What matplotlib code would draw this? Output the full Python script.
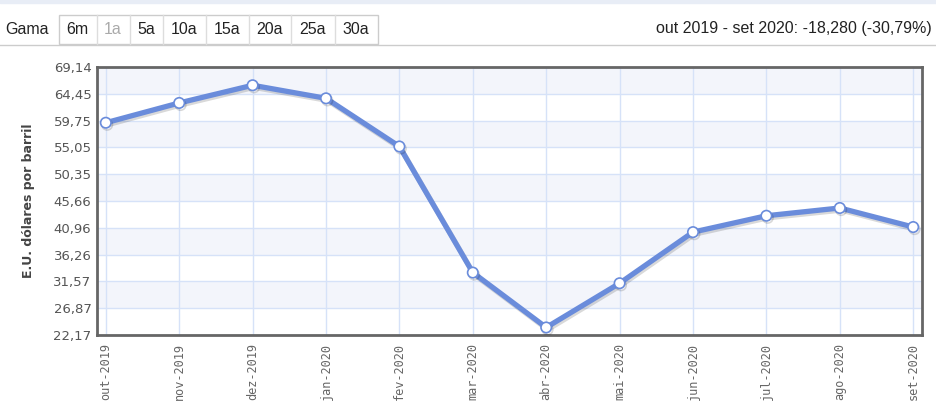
import matplotlib
matplotlib.use("Agg")
import matplotlib.pyplot as plt
import matplotlib.patheffects as pe
from matplotlib.patches import Rectangle

# dados (Brent, E.U. dolares por barril)
meses = ["out-2019", "nov-2019", "dez-2019", "jan-2020", "fev-2020", "mar-2020",
         "abr-2020", "mai-2020", "jun-2020", "jul-2020", "ago-2020", "set-2020"]
precos = [59.37, 62.84, 65.94, 63.65, 55.21, 33.11, 23.49, 31.24, 40.20, 43.07, 44.43, 41.09]
yticks = [22.17, 26.87, 31.57, 36.26, 40.96, 45.66, 50.35, 55.05, 59.75, 64.45, 69.14]
botoes = ["6m", "1a", "5a", "10a", "15a", "20a", "25a", "30a"]
titulo = "out 2019 - set 2020: -18,280 (-30,79%)"

W, H = 936, 411
fig = plt.figure(figsize=(W / 100, H / 100), dpi=100)

# barra de cima (Gama + botoes)
fig.patches.append(Rectangle((0, 1 - 3 / H), 1, 3 / H, transform=fig.transFigure,
                             color="#e8edf6", zorder=0))
fig.lines.append(plt.Line2D([0, 1], [1 - 45 / H] * 2, transform=fig.transFigure,
                            color="#cccccc", lw=1))
fig.text(5 / W, 1 - 29 / H, "Gama", fontsize=11.5, family="Liberation Sans",
         color="#222222", va="center", ha="left")
seps = [58.5, 96.5, 129.5, 162.5, 205.5, 248.5, 291, 334.5, 377.5]
fig.patches.append(Rectangle((seps[0] / W, 1 - 44 / H), (seps[-1] - seps[0]) / W, 29 / H,
                             transform=fig.transFigure, facecolor="white",
                             edgecolor="#cccccc", lw=1))
for i, b in enumerate(botoes):
    if i > 0:
        fig.lines.append(plt.Line2D([seps[i] / W] * 2, [1 - 44 / H, 1 - 15 / H],
                                    transform=fig.transFigure, color="#dddddd", lw=1))
    cx = (seps[i] + seps[i + 1]) / 2 / W
    fig.text(cx, 1 - 30 / H, b, fontsize=11.5, family="Liberation Sans",
             color="#aaaaaa" if b == "1a" else "#222222", ha="center", va="center")
fig.text(932 / W, 1 - 29 / H, titulo, fontsize=11.5, family="Liberation Sans",
         color="#222222", ha="right", va="center")

ax = fig.add_axes([97 / W, 1 - 335 / H, 825 / W, 268 / H])
x = list(range(len(meses)))

# faixas alternadas
for i in range(len(yticks) - 1):
    if i % 2 == 1:
        ax.axhspan(yticks[i], yticks[i + 1], color="#f3f5fb", zorder=0, lw=0)

ax.plot(x, precos, color="#6a8cdb", lw=3.8, marker="o", markersize=7.5,
        markerfacecolor="white", markeredgecolor="#6a8cdb", markeredgewidth=1.2,
        zorder=3, solid_joinstyle="miter",
        path_effects=[pe.SimpleLineShadow(offset=(1, -1.5), shadow_color="black", alpha=0.15),
                      pe.Normal()])

ax.set_xlim(-0.12, len(meses) - 1 + 0.12)
ax.set_ylim(yticks[0], yticks[-1])
ax.set_yticks(yticks)
ax.set_yticklabels([f"{v:.2f}".replace(".", ",") for v in yticks],
                   fontsize=9.5, color="#555555", family="DejaVu Sans")
ax.set_xticks(x)
ax.set_xticklabels(meses, rotation=90, fontsize=8.6, color="#666666",
                   family="DejaVu Sans Mono")
ax.tick_params(length=0, pad=6)
ax.tick_params(axis="y", pad=4)
ax.grid(True, color="#d6e2f8", lw=1, zorder=1)
ax.set_axisbelow(True)
for s in ax.spines.values():
    s.set_color("#666666")
    s.set_linewidth(2)

ax.set_ylabel("E.U. dólares por barril", fontsize=9, fontweight="bold",
              color="#444444", labelpad=13)

fig.savefig("out.png", dpi=100)
